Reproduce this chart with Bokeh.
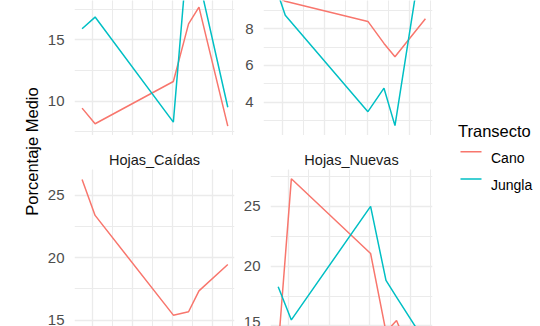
import math
from bokeh.plotting import figure
from bokeh.layouts import row, column
from bokeh.models import Range1d, FixedTicker, Grid
from bokeh.embed import file_html
from bokeh.resources import INLINE
from bokeh.core.properties import value

# ---- data ----
x_pos = [-0.52, 0.13, 4.04, 4.80, 5.32, 6.76]          # sampling positions (hidden x axis)
x_major = [0, 2, 4, 6]
x_minor = [1, 3, 5, 7]

series_names = ["Cano", "Jungla"]
series_colors = ["#F8766D", "#00BFC4"]

top_left_cano = [9.43, 8.16, 11.6, 16.3, 17.66, 7.96]
top_left_jungla = [15.9, 16.85, 8.29, 23.1, 19.9, 9.5]
top_right_cano = [9.9, 9.5, 8.4, 7.2, 6.47, 8.55]
top_right_jungla = [10.96, 8.73, 3.48, 4.76, 2.72, 13.3]
caidas_cano = [26.28, 23.4, 15.4, 15.67, 17.35, 19.46]
nuevas_cano = [13.1, 27.3, 21.06, 14.5, 15.45, 9.6]
nuevas_jungla = [18.27, 15.5, 25.0, 18.8, 17.4, 13.6]

strip_labels = ["", "", "Hojas_Caídas", "Hojas_Nuevas"]
y_title = "Porcentaje Medio"
legend_title = "Transecto"

FONT = "Liberation Sans"
GRID = "#EBEBEB"
X_RANGE = (-0.899, 7.095)


def panel(width, height, ylo, yhi, majors, minors, series, strip, border_left, border_right, border_top):
    p = figure(width=width, height=height, output_backend="svg", toolbar_location=None,
               x_range=Range1d(*X_RANGE), y_range=Range1d(ylo, yhi),
               x_axis_location=None, y_axis_location="left",
               min_border_left=border_left, min_border_right=border_right,
               min_border_top=border_top, min_border_bottom=0,
               outline_line_color=None, background_fill_color="white", border_fill_color=None)
    ax = p.yaxis[0]
    ax.ticker = FixedTicker(ticks=majors, minor_ticks=minors)
    ax.axis_line_color = None
    ax.major_tick_line_color = None
    ax.minor_tick_line_color = None
    ax.major_label_text_font = FONT
    ax.major_label_text_font_size = "15px"
    ax.major_label_text_color = "#4D4D4D"
    ax.major_label_standoff = 4
    p.ygrid.grid_line_color = GRID
    p.ygrid.grid_line_width = 1.3
    p.ygrid.minor_grid_line_color = GRID
    p.ygrid.minor_grid_line_width = 1.0
    xg = Grid(dimension=0, ticker=FixedTicker(ticks=x_major, minor_ticks=x_minor),
              grid_line_color=GRID, grid_line_width=1.3,
              minor_grid_line_color=GRID, minor_grid_line_width=1.0)
    p.add_layout(xg)
    for ys, col in series:
        p.line(x_pos, ys, line_color=col, line_width=1.5)
    if strip:
        p.title.text = strip
        p.title.align = "center"
        p.title.text_font = FONT
        p.title.text_font_size = "14.5px"
        p.title.text_font_style = "normal"
        p.title.text_color = "#1A1A1A"
        p.title.standoff = 3
    return p


tl = panel(196, 135, 7.20, 18.20, [10, 15], [7.5, 12.5, 17.5],
           [(top_left_cano, series_colors[0]), (top_left_jungla, series_colors[1])],
           strip_labels[0], 21, 6, 0)
tr = panel(200, 135, 2.18, 9.54, [4, 6, 8], [3, 5, 7, 9],
           [(top_right_cano, series_colors[0]), (top_right_jungla, series_colors[1])],
           strip_labels[1], 23, 8, 0)
bl = panel(196, 191, 14.49, 27.08, [15, 20, 25], [17.5, 22.5],
           [(caidas_cano, series_colors[0])],
           strip_labels[2], 21, 6, 34)
br = panel(200, 191, 14.95, 28.08, [15, 20, 25], [17.5, 22.5, 27.5],
           [(nuevas_cano, series_colors[0]), (nuevas_jungla, series_colors[1])],
           strip_labels[3], 23, 8, 34)


def blank(width, height):
    p = figure(width=width, height=height, output_backend="svg", toolbar_location=None,
               x_range=Range1d(0, width), y_range=Range1d(height, 0),
               x_axis_location=None, y_axis_location=None,
               min_border=0, outline_line_color=None,
               background_fill_color="white", border_fill_color="white")
    p.xgrid.visible = False
    p.ygrid.visible = False
    return p


ylab = blank(44, 326)
ylab.text(x=[31], y=[151], text=[y_title], angle=math.pi / 2,
          text_align="center", text_baseline="middle",
          text_font=value(FONT), text_font_size="16.5px", text_color="#000000")

leg = blank(100, 326)
leg.text(x=[17.5], y=[130.5], text=[legend_title], text_align="left", text_baseline="alphabetic",
         text_font=value(FONT), text_font_size="16.5px", text_color="#000000")
key_y = [151.3, 178.5]
label_y = [157.3, 184.3]
for name, col, ky, ly in zip(series_names, series_colors, key_y, label_y):
    leg.line(x=[20, 41], y=[ky, ky], line_color=col, line_width=1.5)
    leg.text(x=[50.5], y=[ly], text=[name], text_align="left", text_baseline="alphabetic",
             text_font=value(FONT), text_font_size="14px", text_color="#000000")

layout = row(ylab, column(row(tl, tr), row(bl, br)), leg)

open("out.html", "w").write(file_html(layout, INLINE))
